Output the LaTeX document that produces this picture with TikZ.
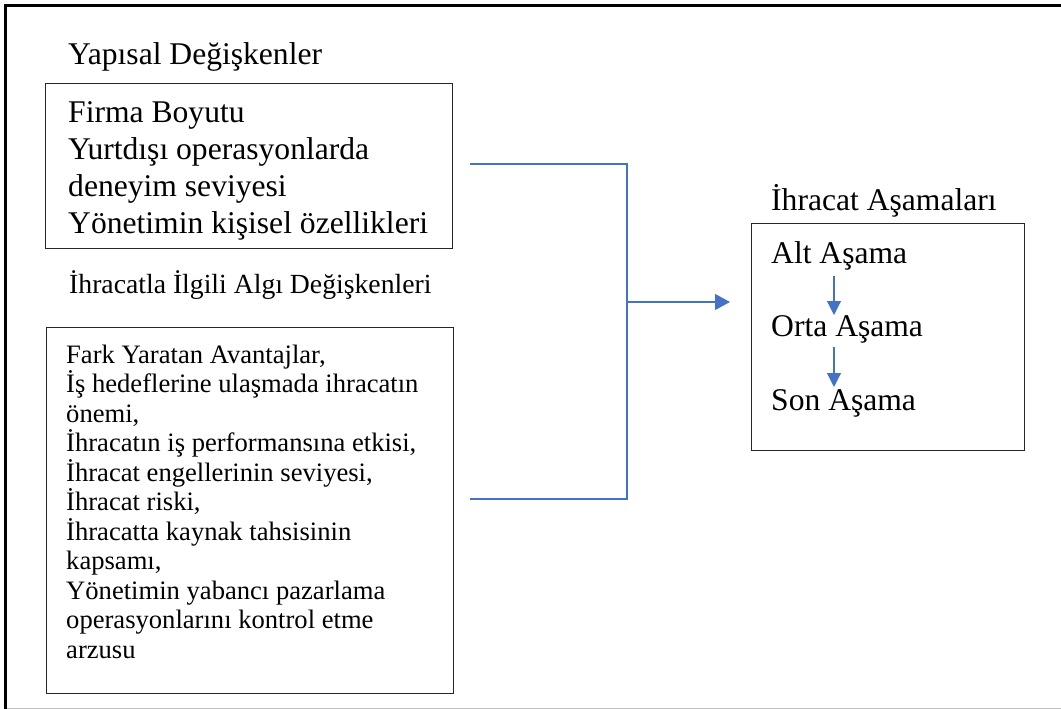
\documentclass[tikz,border=0pt]{standalone}
\usepackage{fontspec}
\setmainfont{Liberation Serif}
\usetikzlibrary{arrows.meta}
\definecolor{linkblue}{HTML}{4472C4}
\tikzset{
  panel/.style={draw=black!85, line width=0.9pt, inner sep=0pt, anchor=north west},
  headline/.style={inner sep=0pt, anchor=base west, font=\fontsize{31.6}{37}\selectfont},
  % multi-line lists are placed by the baseline of their last line
  biglist/.style={inner sep=0pt, anchor=base west, align=left, font=\fontsize{31.6}{37}\selectfont},
  smalllist/.style={inner sep=0pt, anchor=base west, align=left, font=\fontsize{26.6}{29.5}\selectfont},
  link/.style={draw=linkblue, line width=1.1pt},
  linkarrow/.style={link, -{Triangle[length=15pt,width=16pt]}},
  steparrow/.style={link, -{Triangle[length=14pt,width=14pt]}},
}
\begin{document}
\begin{tikzpicture}[x=1pt,y=-1pt]
\useasboundingbox (0,0) rectangle (1061,709);
% page frame, cut at the right and bottom
\draw[line width=3pt, black] (5.5,709) -- (5.5,5.5) -- (1061,5.5);
\draw[line width=1pt, black!25] (7,708.3) -- (1061,708.3);

% structural variables
\node[headline] (t1) at (68,65) {Yapısal Değişkenler};
\node[panel, minimum width=407pt, minimum height=165pt] (box1) at (45,83) {};
\node[biglist] (l1) at (68,233) {Firma Boyutu\\Yurtdışı operasyonlarda\\deneyim seviyesi\\Yönetimin kişisel özellikleri};

% export-related perception variables
\node[inner sep=0pt, anchor=base west, font=\fontsize{27.7}{32}\selectfont] (t2) at (69,293) {İhracatla İlgili Algı Değişkenleri};
\node[panel, minimum width=407pt, minimum height=366pt] (box2) at (46,327) {};
\node[smalllist] (l2) at (66,658) {Fark Yaratan Avantajlar,\\İş hedeflerine ulaşmada ihracatın\\önemi,\\İhracatın iş performansına etkisi,\\İhracat engellerinin seviyesi,\\İhracat riski,\\İhracatta kaynak tahsisinin\\kapsamı,\\Yönetimin yabancı pazarlama\\operasyonlarını kontrol etme\\arzusu};

% export stages
\node[headline] (t3) at (771,210) {İhracat Aşamaları};
\node[panel, minimum width=273pt, minimum height=227pt] (box3) at (751,223) {};
\node[headline] (s1) at (771,263) {Alt Aşama};
\node[headline] (s2) at (771,336) {Orta Aşama};
\node[headline] (s3) at (771,410) {Son Aşama};

% bracket joining both groups
\coordinate (e1) at (470,164);
\coordinate (e2) at (470,499);
\coordinate (jt) at (627,164);
\coordinate (jb) at (627,499);
\coordinate (jm) at (627,302);
\coordinate (tip) at (730,302);
\draw[link] (e1) -- (jt) -- (jb) -- (e2);
\draw[linkarrow] (jm) -- (tip);

% arrows between the stages
\coordinate (a1) at (834,276);
\coordinate (a2) at (834,315);
\coordinate (a3) at (834,347);
\coordinate (a4) at (834,387);
\draw[steparrow] (a1) -- (a2);
\draw[steparrow] (a3) -- (a4);
\end{tikzpicture}
\end{document}
